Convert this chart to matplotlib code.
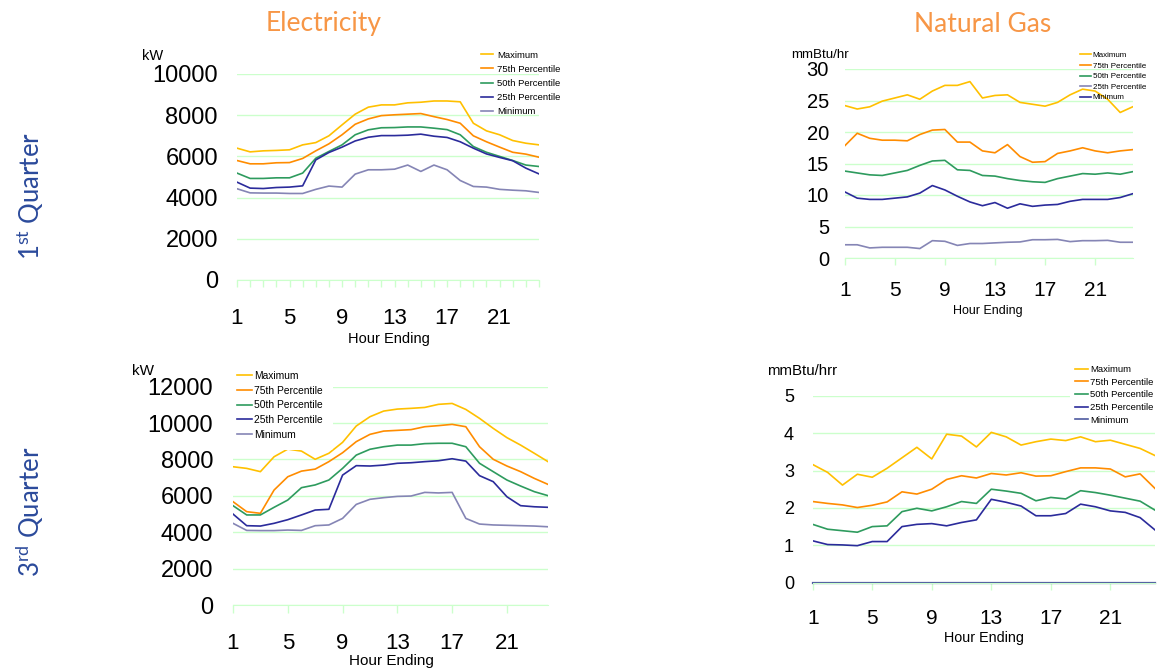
import numpy as np
import matplotlib.pyplot as plt
from matplotlib.lines import Line2D

plt.rcParams['font.family'] = ['Liberation Sans', 'DejaVu Sans']
plt.rcParams['mathtext.default'] = 'regular'

W, H = 1157, 670

hours = np.arange(1, 25)
series_names = ['Maximum', '75th Percentile', '50th Percentile', '25th Percentile', 'Minimum']

# Electricity, 1st quarter (kW)
elec_q1_max = [6400, 6220, 6270, 6290, 6320, 6560, 6670, 7000, 7530, 8050, 8390, 8500,
               8500, 8600, 8630, 8690, 8690, 8650, 7610, 7240, 7050, 6770, 6640, 6560]
elec_q1_p75 = [5800, 5640, 5640, 5690, 5700, 5900, 6270, 6610, 7050, 7560, 7820, 7980,
               8020, 8050, 8080, 7930, 7790, 7610, 7000, 6710, 6450, 6200, 6110, 5960]
elec_q1_p50 = [5190, 4930, 4930, 4960, 4960, 5190, 5910, 6240, 6560, 7050, 7290, 7390,
               7400, 7430, 7430, 7370, 7300, 7050, 6480, 6200, 6000, 5800, 5580, 5510]
elec_q1_p25 = [4750, 4460, 4440, 4490, 4510, 4570, 5830, 6190, 6450, 6750, 6930, 7010,
               7010, 7030, 7080, 6980, 6920, 6710, 6400, 6120, 5950, 5790, 5430, 5150]
elec_q1_min = [4430, 4230, 4220, 4220, 4200, 4200, 4400, 4560, 4510, 5140, 5350, 5350,
               5380, 5580, 5270, 5580, 5350, 4830, 4540, 4510, 4400, 4360, 4330, 4250]

# Natural gas, 1st quarter (mmBtu/hr)
gas_q1_max = [24.2, 23.65, 24.0, 24.9, 25.4, 25.9, 25.2, 26.5, 27.4, 27.4, 28.0, 25.4,
              25.8, 25.9, 24.7, 24.4, 24.1, 24.7, 25.9, 26.8, 26.5, 25.2, 23.1, 24.0]
gas_q1_p75 = [17.8, 19.8, 19.0, 18.7, 18.7, 18.6, 19.6, 20.3, 20.4, 18.4, 18.4, 17.0,
              16.7, 18.0, 16.1, 15.2, 15.3, 16.6, 17.0, 17.5, 17.0, 16.7, 17.0, 17.2]
gas_q1_p50 = [13.8, 13.5, 13.2, 13.1, 13.5, 13.9, 14.7, 15.4, 15.5, 14.0, 13.9, 13.1,
              13.0, 12.6, 12.3, 12.1, 12.0, 12.6, 13.0, 13.4, 13.3, 13.5, 13.3, 13.7]
gas_q1_p25 = [10.5, 9.5, 9.3, 9.3, 9.5, 9.7, 10.3, 11.5, 10.8, 9.8, 8.9, 8.3,
              8.8, 7.9, 8.6, 8.2, 8.4, 8.5, 9.0, 9.3, 9.3, 9.3, 9.6, 10.2]
gas_q1_min = [2.1, 2.1, 1.6, 1.7, 1.7, 1.7, 1.5, 2.75, 2.65, 2.0, 2.3, 2.3,
              2.4, 2.5, 2.55, 2.9, 2.9, 2.95, 2.6, 2.75, 2.75, 2.8, 2.5, 2.5]

# Electricity, 3rd quarter (kW)
elec_q3_max = [7600, 7510, 7330, 8150, 8570, 8460, 8010, 8340, 8940, 9840, 10350, 10660,
               10770, 10810, 10860, 11030, 11080, 10750, 10260, 9710, 9200, 8790, 8340, 7880]
elec_q3_p75 = [5680, 5130, 5040, 6320, 7050, 7360, 7470, 7880, 8370, 8980, 9380, 9560,
               9600, 9640, 9800, 9860, 9930, 9800, 8700, 8010, 7640, 7330, 6960, 6630]
elec_q3_p50 = [5460, 4950, 4950, 5370, 5770, 6450, 6600, 6870, 7510, 8240, 8560, 8700,
               8790, 8790, 8870, 8890, 8890, 8700, 7790, 7330, 6870, 6540, 6230, 6010]
elec_q3_p25 = [5000, 4360, 4340, 4490, 4690, 4950, 5220, 5260, 7140, 7660, 7640, 7690,
               7790, 7820, 7880, 7930, 8040, 7910, 7110, 6780, 5950, 5460, 5400, 5370]
elec_q3_min = [4490, 4100, 4090, 4090, 4120, 4100, 4360, 4400, 4760, 5530, 5810, 5900,
               5970, 5990, 6190, 6160, 6190, 4760, 4450, 4400, 4380, 4360, 4340, 4300]

# Natural gas, 3rd quarter (mmBtu/hr)
gas_q3_max = [3.16, 2.95, 2.61, 2.90, 2.82, 3.06, 3.34, 3.62, 3.31, 3.97, 3.92, 3.63,
              4.02, 3.90, 3.68, 3.77, 3.84, 3.80, 3.90, 3.77, 3.81, 3.70, 3.59, 3.40]
gas_q3_p75 = [2.17, 2.12, 2.08, 2.01, 2.07, 2.16, 2.43, 2.37, 2.50, 2.76, 2.86, 2.80,
              2.92, 2.88, 2.94, 2.85, 2.86, 2.97, 3.07, 3.07, 3.04, 2.83, 2.91, 2.52]
gas_q3_p50 = [1.56, 1.43, 1.39, 1.35, 1.50, 1.52, 1.90, 1.99, 1.92, 2.03, 2.17, 2.12,
              2.50, 2.45, 2.39, 2.19, 2.28, 2.24, 2.46, 2.41, 2.34, 2.26, 2.18, 1.94]
gas_q3_p25 = [1.12, 1.02, 1.01, 0.99, 1.10, 1.10, 1.50, 1.56, 1.58, 1.52, 1.61, 1.68,
              2.23, 2.15, 2.05, 1.79, 1.79, 1.85, 2.10, 2.03, 1.92, 1.88, 1.74, 1.41]
gas_q3_min = [0] * 24

col_max = '#FFC000'
col_p75 = '#FF8C00'
col_p50 = '#2E9B5E'
col_p25 = '#2B2B9B'
col_min = '#8585B5'
grid_col = '#CCFFCC'
title_col = '#F79646'
quarter_col = '#2B4A9B'


def px(x, y):
    return x / W, 1 - y / H


def box(l, r, top, bot):
    return [l / W, 1 - bot / H, (r - l) / W, (bot - top) / H]


fig = plt.figure(figsize=(W / 100, H / 100), dpi=100)


def panel(rect, data, colors, ymax, ystep, yfs, xfs, ypad, xpad, ticklen, minor=False):
    ax = fig.add_axes(rect)
    for vals, c in zip(data, colors):
        ax.plot(hours, vals, color=c, lw=1.2, solid_joinstyle='round')
    ax.set_xlim(1, 24)
    ax.set_ylim(0, ymax)
    ax.set_yticks(np.arange(0, ymax + ystep / 2, ystep))
    ax.set_xticks([1, 5, 9, 13, 17, 21])
    if minor:
        ax.set_xticks(hours, minor=True)
    ax.grid(axis='y', color=grid_col, lw=1)
    ax.set_axisbelow(True)
    for s in ['top', 'right', 'left']:
        ax.spines[s].set_visible(False)
    ax.spines['bottom'].set_color(grid_col)
    ax.tick_params(axis='y', length=0, labelsize=yfs, pad=ypad)
    ax.tick_params(axis='x', which='both', length=ticklen, color=grid_col, width=1,
                   labelsize=xfs, pad=xpad)
    ax.patch.set_alpha(0)
    return ax


def legend(ax, x, y, fs, hlen, tpad, lspace, colors, frame=False, bp=0.2):
    fs_px = fs * 100 / 72
    h = 1.15 * fs_px
    handles = [Line2D([], [], color=c, lw=1.2) for c in colors]
    ax.legend(handles, series_names, loc='upper left',
              bbox_to_anchor=px(x - bp * fs_px, y + 2 - h / 2 - bp * fs_px),
              bbox_transform=fig.transFigure, fontsize=fs, frameon=frame,
              borderpad=bp, borderaxespad=0, handlelength=hlen, handletextpad=tpad,
              labelspacing=lspace, facecolor='white', edgecolor='none', framealpha=1)


cols = [col_max, col_p75, col_p50, col_p25, col_min]

ax1 = panel(box(237, 539, 74, 280),
            [elec_q1_max, elec_q1_p75, elec_q1_p50, elec_q1_p25, elec_q1_min], cols,
            10000, 2000, 17, 16, 13.7, 15, 5, minor=True)
legend(ax1, 481, 54, 6.8, 1.27, 0.42, 0.55, cols)

ax2 = panel(box(844.7, 1132.7, 69, 258),
            [gas_q1_max, gas_q1_p75, gas_q1_p50, gas_q1_p25, gas_q1_min], cols,
            30, 5, 14.5, 15, 11.3, 11.7, 5)
# legend in the source shows the last two swatches swapped
legend(ax2, 1080, 54.3, 5.8, 1.33, 0.25, 0.36, [col_max, col_p75, col_p50, col_min, col_p25])

ax3 = panel(box(233, 548, 386.7, 605),
            [elec_q3_max, elec_q3_p75, elec_q3_p50, elec_q3_p25, elec_q3_min], cols,
            12000, 2000, 17, 16, 14.2, 14.3, 6)
legend(ax3, 236.7, 375, 7.4, 1.46, 0.22, 0.45, cols, frame=True, bp=1.0)

cols4 = [col_max, col_p75, col_p50, col_p25, '#4E5AA0']
ax4 = panel(box(812.7, 1155, 395.7, 582.7),
            [gas_q3_max, gas_q3_p75, gas_q3_p50, gas_q3_p25, gas_q3_min], cols4,
            5, 1, 13, 15, 13.5, 13.9, 5)
ax4.lines[-1].set_lw(1.6)
ax4.lines[-1].set_clip_on(False)
legend(ax4, 1075, 368.3, 6.8, 1.41, 0.18, 0.39, cols4, frame=True, bp=0.5)

# headings and axis captions
fig.text(*px(324, 24), 'Electricity', family='Lato', fontsize=19, color=title_col,
         ha='center', va='center')
fig.text(*px(983, 24), 'Natural Gas', family='Lato', fontsize=19, color=title_col,
         ha='center', va='center')
fig.text(*px(30, 196), '1$^{st}$ Quarter', family='Lato', fontsize=18.5, color=quarter_col,
         rotation=90, ha='center', va='center')
fig.text(*px(30, 512), '3$^{rd}$ Quarter', family='Lato', fontsize=18.5, color=quarter_col,
         rotation=90, ha='center', va='center')

fig.text(*px(153, 56), 'kW', fontsize=10.5, ha='center', va='center')
fig.text(*px(820, 55), 'mmBtu/hr', fontsize=9.6, ha='center', va='center')
fig.text(*px(143, 371), 'kW', fontsize=11, ha='center', va='center')
fig.text(*px(802, 371), 'mmBtu/hrr', fontsize=10.8, ha='center', va='center')

fig.text(*px(389, 339), 'Hour Ending', fontsize=10.5, ha='center', va='center')
fig.text(*px(988, 311), 'Hour Ending', fontsize=9, ha='center', va='center')
fig.text(*px(391.7, 661), 'Hour Ending', fontsize=11, ha='center', va='center')
fig.text(*px(984, 637.7), 'Hour Ending', fontsize=10.4, ha='center', va='center')

fig.savefig('out.png', dpi=100)
